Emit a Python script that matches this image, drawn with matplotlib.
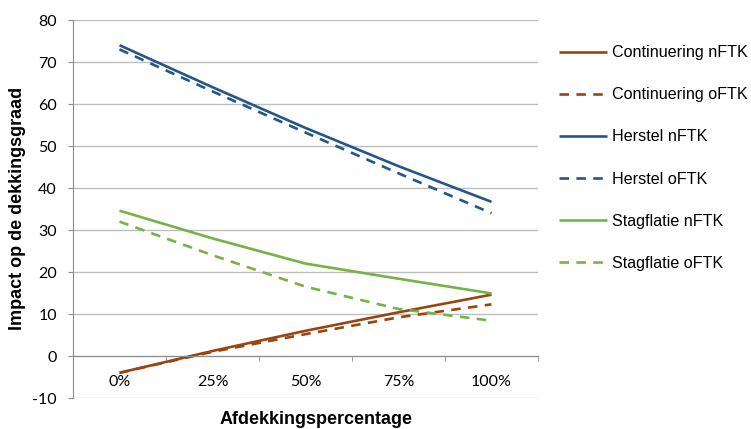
import numpy as np
import matplotlib
matplotlib.use('Agg')
import matplotlib.pyplot as plt
from matplotlib.ticker import FixedLocator

plt.rcParams['font.family'] = 'sans-serif'
plt.rcParams['font.sans-serif'] = ['Liberation Sans', 'DejaVu Sans']

# data
categories = ['0%', '25%', '50%', '75%', '100%']
continuering_n = [-4.0, 1.2, 6.0, 10.4, 14.6]
continuering_o = [-4.0, 1.0, 5.2, 9.2, 12.3]
herstel_n = [74.0, 64.0, 54.3, 45.2, 36.7]
herstel_o = [73.0, 63.0, 53.2, 43.5, 34.0]
stagflatie_n = [34.6, 28.0, 22.0, 18.4, 14.9]
stagflatie_o = [32.0, 24.0, 16.5, 11.2, 8.4]
yticks = list(range(-10, 81, 10))

brown = '#9A4510'
blue = '#245688'
green = '#76B347'
gray = '#8C8C8C'
grid_gray = '#BEBEBE'

series = [
    ('Continuering nFTK', continuering_n, brown, '-'),
    ('Continuering oFTK', continuering_o, brown, '--'),
    ('Herstel nFTK', herstel_n, blue, '-'),
    ('Herstel oFTK', herstel_o, blue, '--'),
    ('Stagflatie nFTK', stagflatie_n, green, '-'),
    ('Stagflatie oFTK', stagflatie_o, green, '--'),
]

fig = plt.figure(figsize=(7.51, 4.29), dpi=100)
ax = fig.add_axes([73/751, 1 - 398/429, (538-73)/751, (398-20)/429])

x = np.arange(len(categories))
for label, vals, col, ls in series:
    line, = ax.plot(x, vals, color=col, lw=1.9, ls=ls, label=label,
                    solid_capstyle='butt', dash_capstyle='butt')
    if ls == '--':
        line.set_dashes((3.6, 2.8))

ax.set_xlim(-0.5, len(categories) - 0.5)
ax.set_ylim(-10, 80)
ax.set_yticks(yticks)
ax.yaxis.grid(True, color=grid_gray, lw=1.0)
ax.set_axisbelow(True)

for s in ['top', 'right']:
    ax.spines[s].set_visible(False)
ax.spines['left'].set_color(gray)
ax.spines['bottom'].set_color(gray)
ax.spines['bottom'].set_position(('data', 0))

tick_font = dict(family='Lato', size=11.5)
ax.tick_params(axis='y', direction='out', length=3.6, color=gray, pad=8)
ax.set_yticklabels([str(t) for t in yticks], **tick_font)

ax.set_xticks(x)
ax.set_xticklabels(categories, **tick_font)
ax.xaxis.set_minor_locator(FixedLocator(np.arange(-0.5, len(categories), 1.0)))
ax.tick_params(axis='x', which='major', length=0, pad=14)
ax.tick_params(axis='x', which='minor', direction='out', length=3.6, color=gray)

fig.text(316/751, 1 - 419/429, 'Afdekkingspercentage', ha='center', va='center',
         fontsize=13, fontweight='bold')
fig.text(18/751, 1 - 208/429, 'Impact op de dekkingsgraad', ha='center', va='center',
         rotation=90, fontsize=13, fontweight='bold')

ax.legend(loc='center left', bbox_to_anchor=(559/751, 1 - 158/429),
          bbox_transform=fig.transFigure, frameon=False, fontsize=11.6,
          handlelength=3.0, handletextpad=0.3, labelspacing=1.68,
          borderpad=0, borderaxespad=0)

fig.savefig('out.png', dpi=100)
